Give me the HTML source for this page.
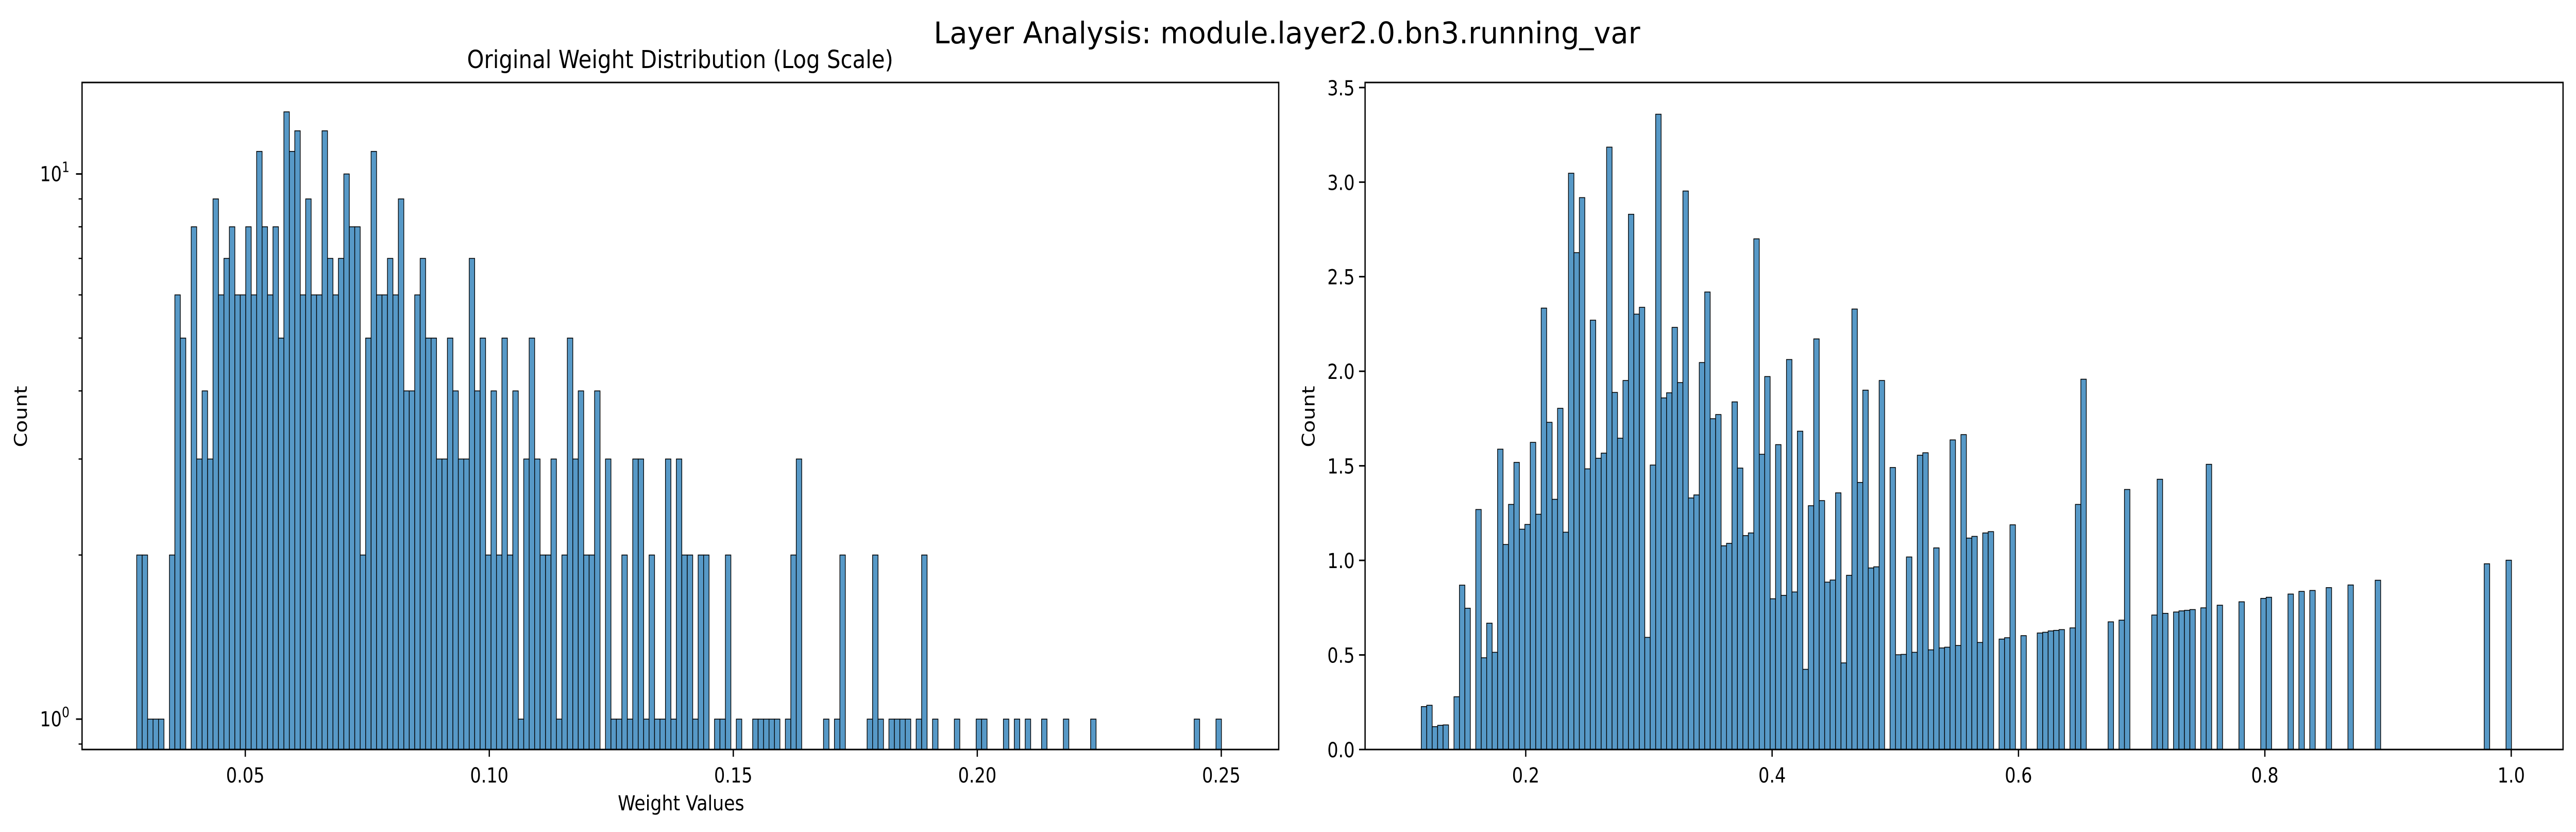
<!DOCTYPE html>
<html><head><meta charset="utf-8"><style>
html,body{margin:0;padding:0;background:#fff;overflow:hidden;}
svg{display:block;width:100vw;height:100vh;font-family:"DejaVu Sans","Liberation Sans",sans-serif;}
</style></head><body>
<svg id="fig" viewBox="0 0 5965 1614" preserveAspectRatio="none" xmlns="http://www.w3.org/2000/svg">
<rect width="5965" height="1614" fill="#fff"/>
<text x="2980" y="84" font-size="58" text-anchor="middle" textLength="1636" lengthAdjust="spacingAndGlyphs">Layer Analysis: module.layer2.0.bn3.running_var</text>
<g id="left"></g>
<g id="right"></g>
</svg>
<script>
// Left chart data: counts per bin (200 bins)
const leftBinMin = 0.02775;
const leftBinWidth = 0.001117;
const leftCounts = [2,2,1,1,1,0,2,6,5,0,8,3,4,3,9,6,7,8,6,6,8,6,11,8,6,8,5,13,11,12,6,9,6,6,12,7,6,7,10,8,8,2,5,11,6,6,7,6,9,4,4,
6,7,5,5,3,3,5,4,3,3,7,4,5,2,4,2,5,2,4,1,3,5,3,2,2,3,1,2,5,3,4,2,2,4,0,3,1,1,2,1,3,3,1,2,1,1,3,1,3,2,2,
1,2,2,0,1,1,2,0,1,0,0,1,1,1,1,1,0,1,2,3,0,0,0,0,1,0,1,2,0,0,0,0,1,2,1,0,1,1,1,1,0,1,2,0,1,0,0,0,1,0,0,
0,1,1,0,0,0,1,0,1,0,1,0,0,1,0,0,0,1,0,0,0,0,1,0,0,0,0,0,0,0,0,0,0,0,0,0,0,0,0,0,0,1,0,0,0,1];
const leftXTicks = [0.05,0.10,0.15,0.20,0.25];
const leftXTickLabels = ["0.05","0.10","0.15","0.20","0.25"];
const leftYMajor = [1,10];
const leftYMajorExp = ["0","1"];
const leftYMinor = [0.9,2,3,4,5,6,7,8,9];

// Right chart data: density per bin (200 bins)
const rightBinMin = 0.1152;
const rightBinWidth = 0.004425;
const rightDensity = [.227,.234,.121,.128,.130,0,.279,.869,.747,0,1.269,.485,.668,.514,1.588,1.084,1.296,1.518,1.165,1.190,1.624,1.244,2.334,1.730,1.323,1.804,1.149,3.047,2.627,2.918,1.484,2.270,1.540,1.567,3.185,1.888,1.646,1.951,2.830,2.302,2.338,.593,1.504,3.359,1.859,1.886,2.232,1.940,2.953,1.330,1.346,
2.046,2.419,1.749,1.771,1.077,1.090,1.838,1.488,1.131,1.145,2.700,1.561,1.972,.797,1.612,.815,2.062,.833,1.683,.424,1.289,2.171,1.316,.885,.896,1.357,.458,.921,2.329,1.412,1.900,.960,.966,1.951,0,1.491,.501,.503,1.018,.514,1.556,1.569,.527,1.066,.537,.541,1.637,.550,1.665,1.118,
1.127,.566,1.145,1.152,0,.584,.591,1.188,0,.602,0,0,.616,.620,.627,.630,.634,0,.643,1.296,1.958,0,0,0,0,.675,0,.684,1.375,0,0,0,0,.711,1.429,.720,0,.727,.733,.736,.740,0,.749,1.508,0,.763,0,0,0,.781,
0,0,0,.799,.805,0,0,0,.822,0,.836,0,.841,0,0,.856,0,0,0,.870,0,0,0,0,.895,0,0,0,0,0,0,0,0,0,0,0,0,0,0,0,0,0,0,0,.982,0,0,0,1.001];
const rightXTicks = [0.2,0.4,0.6,0.8,1.0];
const rightXTickLabels = ["0.2","0.4","0.6","0.8","1.0"];
const rightYTicks = [0,0.5,1,1.5,2,2.5,3,3.5];
const rightYTickLabels = ["0.0","0.5","1.0","1.5","2.0","2.5","3.0","3.5"];

const NS = "http://www.w3.org/2000/svg";
const FILL = "rgb(87,153,199)";
function mk(tag, attrs, parent){
  const e = document.createElementNS(NS, tag);
  for (const k in attrs) e.setAttribute(k, attrs[k]);
  parent.appendChild(e);
  return e;
}
// ---------- Left axes ----------
const L = {x0:190, x1:2961, y0:160, y1:1454};
const lx = v => 568 + (v - 0.05) * 11300;
const ly = c => 1395 - Math.log10(c) * 1057.5;
const gl = document.getElementById('left');
const lbars = mk('g', {}, gl);


leftCounts.forEach((c, i) => {
  if (c <= 0) return;
  const a = lx(leftBinMin + i * leftBinWidth), b = lx(leftBinMin + (i + 1) * leftBinWidth);
  const top = ly(c);
  const r = mk('rect', {x:a, y:top, width:b - a, height:L.y1 - top, fill:FILL, stroke:"#000", "stroke-width":1.6}, lbars);
  
  
});
const lsp = mk('rect', {x:L.x0, y:L.y0, width:L.x1 - L.x0, height:L.y1 - L.y0, fill:"none", stroke:"#000", "stroke-width":3}, gl);


leftXTicks.forEach((v, i) => {
  const x = lx(v);
  const t = mk('line', {x1:x, x2:x, y1:L.y1, y2:L.y1 + 14, stroke:"#000", "stroke-width":3}, gl);
  
  
  const tx = mk('text', {x:x, y:1518, "font-size":40, "text-anchor":"middle"}, gl);
  tx.textContent = leftXTickLabels[i];
  
  
});
leftYMajor.forEach((c, i) => {
  const y = ly(c);
  const t = mk('line', {x1:L.x0 - 14, x2:L.x0, y1:y, y2:y, stroke:"#000", "stroke-width":3}, gl);
  
  
  const tx = mk('text', {x:161, y:y + 14, "font-size":40, "text-anchor":"end"}, gl);
  
  
  const t1 = mk('tspan', {}, tx); t1.textContent = "10";
  const t2 = mk('tspan', {dy:-18, "font-size":28}, tx); t2.textContent = leftYMajorExp[i];
});
leftYMinor.forEach(c => {
  const y = ly(c);
  const t = mk('line', {x1:L.x0 - 8, x2:L.x0, y1:y, y2:y, stroke:"#000", "stroke-width":2.5}, gl);
  
  
});
const lt = mk('text', {x:1575, y:132, "font-size":48, "text-anchor":"middle", textLength:987, lengthAdjust:"spacingAndGlyphs"}, gl);
lt.textContent = "Original Weight Distribution (Log Scale)";


const lxl = mk('text', {x:1577, y:1572, "font-size":40, "text-anchor":"middle", textLength:293, lengthAdjust:"spacingAndGlyphs"}, gl);
lxl.textContent = "Weight Values";


const lyl = mk('text', {x:0, y:0, "font-size":40, "text-anchor":"middle", transform:"translate(62,808) rotate(-90)", textLength:119, lengthAdjust:"spacingAndGlyphs"}, gl);
lyl.textContent = "Count";



// ---------- Right axes ----------
const R = {x0:3161, x1:5935, y0:160, y1:1454};
const rx = v => 3533 + (v - 0.2) * 2852.5;
const ry = d => 1454 - d * 366.9;
const gr = document.getElementById('right');
const rbars = mk('g', {}, gr);


rightDensity.forEach((d, i) => {
  if (d <= 0) return;
  const a = rx(rightBinMin + i * rightBinWidth), b = rx(rightBinMin + (i + 1) * rightBinWidth);
  const top = ry(d);
  const r = mk('rect', {x:a, y:top, width:b - a, height:R.y1 - top, fill:FILL, stroke:"#000", "stroke-width":1.6}, rbars);
  
  
});
const rsp = mk('rect', {x:R.x0, y:R.y0, width:R.x1 - R.x0, height:R.y1 - R.y0, fill:"none", stroke:"#000", "stroke-width":3}, gr);


rightXTicks.forEach((v, i) => {
  const x = rx(v);
  const t = mk('line', {x1:x, x2:x, y1:R.y1, y2:R.y1 + 14, stroke:"#000", "stroke-width":3}, gr);
  
  
  const tx = mk('text', {x:x, y:1518, "font-size":40, "text-anchor":"middle"}, gr);
  tx.textContent = rightXTickLabels[i];
  
  
});
rightYTicks.forEach((d, i) => {
  const y = ry(d);
  const t = mk('line', {x1:R.x0 - 14, x2:R.x0, y1:y, y2:y, stroke:"#000", "stroke-width":3}, gr);
  
  
  const tx = mk('text', {x:3137, y:y + 15, "font-size":40, "text-anchor":"end"}, gr);
  tx.textContent = rightYTickLabels[i];
  
  
});
const ryl = mk('text', {x:0, y:0, "font-size":40, "text-anchor":"middle", transform:"translate(3044,808) rotate(-90)", textLength:119, lengthAdjust:"spacingAndGlyphs"}, gr);
ryl.textContent = "Count";


</script>
</body></html>
